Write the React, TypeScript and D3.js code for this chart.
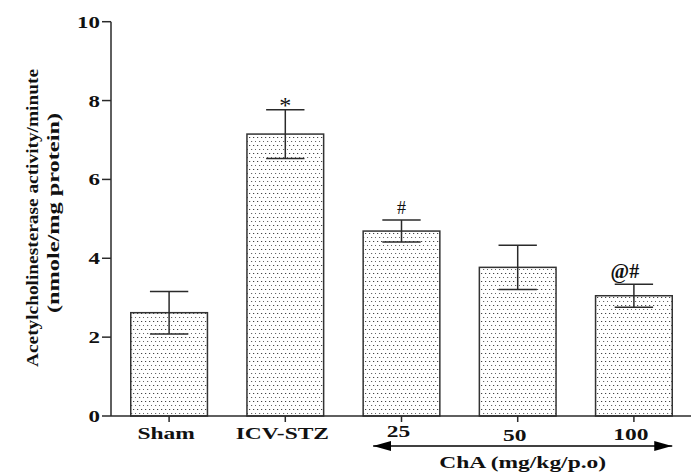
import React from "react";
import * as d3 from "d3";

const categories = ["Sham", "ICV-STZ", "25", "50", "100"];
const means = [2.62, 7.15, 4.69, 3.77, 3.05];
const sems = [0.54, 0.62, 0.28, 0.56, 0.29];
const annotations = ["", "*", "#", "", "@#"];
const yTicks = [0, 2, 4, 6, 8, 10];
const yTitle1 = "Acetylcholinesterase activity/minute";
const yTitle2 = "(nmole/mg protein)";
const groupTitle = "ChA (mg/kg/p.o)";

const W = 691;
const H = 472;
const M = { left: 111, top: 21.7 };
const y0 = 416;

export default function App() {
  const x = d3.scaleBand<string>().domain(categories).range([M.left, W + 1]).paddingInner(0.34).paddingOuter(0.17);
  const y = d3.scaleLinear().domain([0, 10]).range([y0, M.top]);
  const bw = x.bandwidth();
  const font = "'Liberation Serif', 'Times New Roman', serif";
  const labelDy = [0, 0, -2, 2, 1];
  const dark = "#2a2a2a";
  const arrowY = 446;
  const ax1 = (x("25") ?? 0) + 10;
  const ax2 = (x("100") ?? 0) + bw;

  return (
    <svg width={W} height={H} style={{ position: "absolute", left: 0, top: 0, background: "#fff" }}>
      <defs>
        <pattern id="dots" width="8" height="8" patternUnits="userSpaceOnUse">
          <rect width="8" height="8" fill="#fff" />
          <rect x="1" y="1" width="1.2" height="1" fill="#444" />
          <rect x="5" y="1" width="1.2" height="1" fill="#444" />
          <rect x="3" y="5" width="1.2" height="1" fill="#666" />
          <rect x="7" y="5" width="1.2" height="1" fill="#666" />
        </pattern>
        <marker id="ah" viewBox="0 0 10 10" refX="10" refY="5" markerWidth="18" markerHeight="10" markerUnits="userSpaceOnUse" orient="auto-start-reverse" preserveAspectRatio="none">
          <path d="M0,0 L10,5 L0,10 Z" fill="#000" />
        </marker>
      </defs>

      {/* bars */}
      {categories.map((c, i) => (
        <rect key={c} x={x(c)} y={y(means[i])} width={bw} height={y0 - y(means[i])} fill="url(#dots)" stroke="#333" strokeWidth={1.5} />
      ))}

      {/* error bars */}
      {categories.map((c, i) => {
        const cx = (x(c) ?? 0) + bw / 2;
        const hi = y(means[i] + sems[i]);
        const lo = y(means[i] - sems[i]);
        const cap = bw / 4;
        return (
          <g key={c} stroke={dark} strokeWidth={1.5}>
            <line x1={cx} x2={cx} y1={hi} y2={lo} />
            <line x1={cx - cap} x2={cx + cap} y1={hi} y2={hi} />
            <line x1={cx - cap} x2={cx + cap} y1={lo} y2={lo} />
          </g>
        );
      })}

      {/* annotations */}
      {categories.map((c, i) =>
        annotations[i] ? (
          <text key={c} x={(x(c) ?? 0) + bw / 2 - (annotations[i].length > 1 ? 9 : 0)} y={y(means[i] + sems[i]) - (annotations[i] === "*" ? -3 : 6)} textAnchor="middle" fontFamily={font} fontSize={annotations[i] === "*" ? 24 : annotations[i] === "@#" ? 20 : 18} fontWeight={annotations[i] === "@#" ? "bold" : "normal"} fill="#111">
            {annotations[i]}
          </text>
        ) : null
      )}

      {/* y axis */}
      <line x1={M.left} x2={M.left} y1={y(10)} y2={y0} stroke={dark} strokeWidth={1.5} />
      {yTicks.map((t) => (
        <g key={t}>
          <line x1={M.left - 9} x2={M.left} y1={y(t)} y2={y(t)} stroke={dark} strokeWidth={1.5} />
          <text transform={`translate(${M.left - 11},${y(t) + 6}) scale(1.35,1)`} textAnchor="end" fontFamily={font} fontWeight="bold" fontSize={17} fill="#111">
            {t}
          </text>
        </g>
      ))}

      {/* x axis */}
      <line x1={M.left} x2={W} y1={y0} y2={y0} stroke={dark} strokeWidth={1.5} />
      {categories.map((c, i) => {
        const cx = (x(c) ?? 0) + bw / 2;
        return (
          <g key={c}>
            <line x1={cx} x2={cx} y1={y0} y2={y0 + 6} stroke={dark} strokeWidth={1.5} />
            <text transform={`translate(${cx - 3},${439 + labelDy[i]}) scale(1.38,1)`} textAnchor="middle" fontFamily={font} fontWeight="bold" fontSize={17} fill="#111">
              {c}
            </text>
          </g>
        );
      })}

      {/* group arrow */}
      <line x1={ax1} x2={ax2} y1={arrowY} y2={arrowY} stroke="#000" strokeWidth={1.5} markerStart="url(#ah)" markerEnd="url(#ah)" />
      <text transform={`translate(${(ax1 + ax2) / 2},468) scale(1.38,1)`} textAnchor="middle" fontFamily={font} fontWeight="bold" fontSize={17} fill="#111">
        {groupTitle}
      </text>

      {/* y title */}
      <text transform={`translate(38,218) rotate(-90)`} textAnchor="middle" fontFamily={font} fontWeight="bold" fontSize={17} textLength={298} lengthAdjust="spacingAndGlyphs" fill="#111">
        {yTitle1}
      </text>
      <text transform={`translate(59,213) rotate(-90)`} textAnchor="middle" fontFamily={font} fontWeight="bold" fontSize={17} textLength={200} lengthAdjust="spacingAndGlyphs" fill="#111">
        {yTitle2}
      </text>
    </svg>
  );
}
